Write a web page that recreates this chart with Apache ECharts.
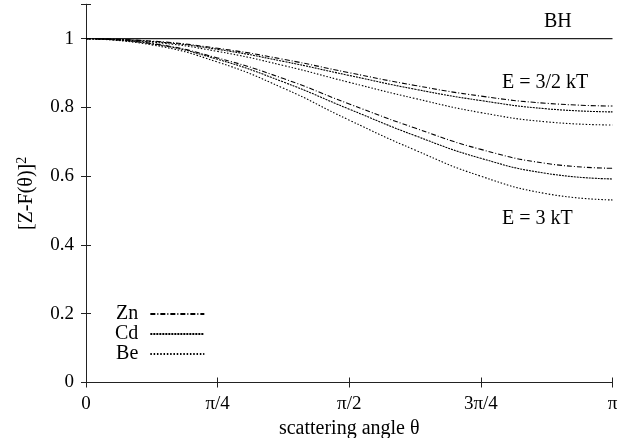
<!DOCTYPE html>
<html>
<head>
<meta charset="utf-8">
<script src="https://cdn.jsdelivr.net/npm/echarts@6/dist/echarts.min.js"></script>
<style>html,body{margin:0;padding:0;background:#fff}#c{width:636px;height:438px}</style>
</head>
<body>
<div id="c"></div>
<script>
const PI = Math.PI;
// theta sample positions (multiples of pi/8)
const thetaSteps = [0, 1, 2, 3, 4, 5, 6, 7, 8];
const xTickLabels = ['0', 'π/4', 'π/2', '3π/4', 'π'];
// E = 3/2 kT
const zn32 = [1, 0.993, 0.972, 0.940, 0.901, 0.864, 0.833, 0.812, 0.804];
const cd32 = [1, 0.992, 0.969, 0.934, 0.893, 0.853, 0.820, 0.796, 0.787];
const be32 = [1, 0.990, 0.963, 0.922, 0.873, 0.826, 0.785, 0.758, 0.749];
// E = 3 kT
const zn3 = [1, 0.986, 0.944, 0.884, 0.810, 0.740, 0.678, 0.637, 0.623];
const cd3 = [1, 0.985, 0.940, 0.874, 0.795, 0.718, 0.652, 0.608, 0.592];
const be3 = [1, 0.982, 0.932, 0.856, 0.763, 0.676, 0.600, 0.549, 0.531];
// Born (BH) reference
const bhX = [0, 8];
const bhY = [1, 1];

const toPts = (ys, steps) => ys.map((v, i) => [steps[i] * PI / 8, v]);
const FONT = 'Liberation Serif';
const dashZn = [5, 2, 1, 2];
const dashCd = [2, 1];
const dashBe = [1.5, 1.8];

function curve(name, ys, dash) {
  return {
    name, type: 'line', smooth: true, symbol: 'none', silent: true,
    data: toPts(ys, thetaSteps),
    lineStyle: { color: '#000', width: 1.1, type: dash },
    itemStyle: { color: '#000' }
  };
}

const chart = echarts.init(document.getElementById('c'), null, { renderer: 'canvas' });
const tickLabel = v => xTickLabels[Math.round(v / (PI / 4))] ?? '';
chart.setOption({
  animation: false,
  backgroundColor: '#fff',
  grid: { left: 86, right: 23.5, top: 4.3, bottom: 55.5, containLabel: false, outerBoundsMode: 'none' },
  textStyle: { fontFamily: FONT },
  xAxis: [{
    type: 'value', min: 0, max: PI, interval: PI / 4,
    name: 'scattering angle θ', nameLocation: 'middle', nameGap: 34,
    nameTextStyle: { fontFamily: FONT, fontSize: 20, color: '#000' },
    axisLine: { lineStyle: { color: '#222', width: 1 } },
    axisTick: { inside: true, length: 5, lineStyle: { color: '#222' } },
    axisLabel: { formatter: tickLabel, fontFamily: FONT, fontSize: 19, color: '#000', margin: 12 },
    splitLine: { show: false }
  }, {
    type: 'value', min: 0, max: PI, interval: PI / 4, position: 'top',
    axisLine: { show: true, lineStyle: { color: '#222', width: 1 } },
    axisTick: { inside: true, length: 5, lineStyle: { color: '#222' } },
    axisLabel: { show: false }, splitLine: { show: false }
  }],
  yAxis: [{
    type: 'value', min: 0, max: 1.1, interval: 0.2,
    name: '[Z-F(θ)]{sup|2}', nameLocation: 'middle', nameGap: 47,
    nameTextStyle: { fontFamily: FONT, fontSize: 20, color: '#000',
      rich: { sup: { fontFamily: FONT, fontSize: 14, verticalAlign: 'top', padding: [0, 0, 10, 0], color: '#000' } } },
    axisLine: { show: true, lineStyle: { color: '#222', width: 1 } },
    axisTick: { inside: true, length: 5, lineStyle: { color: '#222' } },
    axisLabel: { fontFamily: FONT, fontSize: 19, color: '#000', margin: 12,
      formatter: v => (v > 1.05 ? '' : String(Math.round(v * 10) / 10)) },
    splitLine: { show: false }
  }, {
    type: 'value', min: 0, max: 1.1, interval: 0.2, position: 'right',
    axisLine: { show: true, lineStyle: { color: '#222', width: 1 } },
    axisTick: { inside: true, length: 5, lineStyle: { color: '#222' } },
    axisLabel: { show: false }, splitLine: { show: false }
  }],
  legend: {
    data: ['Zn', 'Cd', 'Be'], orient: 'vertical', align: 'right',
    left: 110, top: 299, itemWidth: 54, itemHeight: 14, itemGap: 0,
    selectedMode: false,
    itemStyle: { opacity: 0 },
    textStyle: { fontFamily: FONT, fontSize: 20, lineHeight: 14, color: '#000', padding: [0, 7, 0, 0] }
  },
  series: [
    { name: 'BH', type: 'line', symbol: 'none', silent: true,
      data: bhX.map((s, i) => [s * PI / 8, bhY[i]]),
      lineStyle: { color: '#222', width: 1.2 } },
    curve('Zn', zn32, dashZn), curve('Cd', cd32, dashCd), curve('Be', be32, dashBe),
    curve('Zn', zn3, dashZn), curve('Cd', cd3, dashCd), curve('Be', be3, dashBe)
  ],
  graphic: [
    { type: 'text', left: 544, top: 12, style: { text: 'BH', font: '20px "Liberation Serif"', fill: '#000' } },
    { type: 'text', left: 502, top: 73, style: { text: 'E = 3/2 kT', font: '20px "Liberation Serif"', fill: '#000' } },
    { type: 'text', left: 502, top: 209, style: { text: 'E = 3 kT', font: '20px "Liberation Serif"', fill: '#000' } }
  ]
});
</script>
</body>
</html>
